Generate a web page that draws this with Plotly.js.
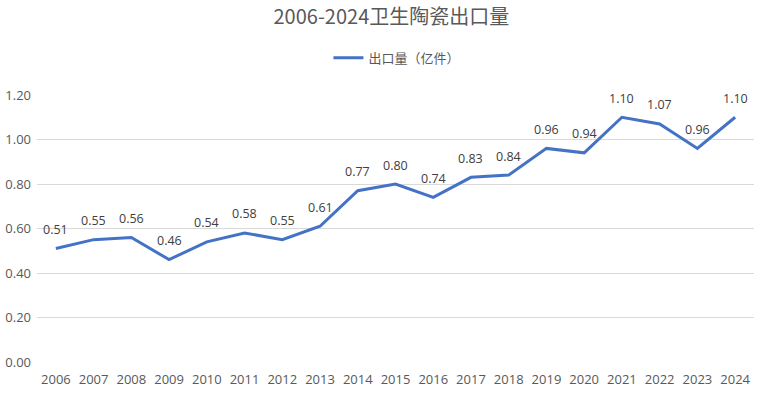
<!DOCTYPE html>
<html><head><meta charset="utf-8">
<script src="https://cdn.plot.ly/plotly-3.0.1.min.js"></script>
<style>html,body{margin:0;padding:0;background:#fff}#chart{width:760px;height:395px}</style>
</head><body><div id="chart"></div>
<script>
const years = ['2006','2007','2008','2009','2010','2011','2012','2013','2014','2015','2016','2017','2018','2019','2020','2021','2022','2023','2024'];
const exportVolume = [0.51,0.55,0.56,0.46,0.54,0.58,0.55,0.61,0.77,0.80,0.74,0.83,0.84,0.96,0.94,1.10,1.07,0.96,1.10];
const seriesName = '出口量（亿件）';
const chartTitle = '2006-2024卫生陶瓷出口量';
const yTicks = [0,0.2,0.4,0.6,0.8,1.0,1.2];

const font = '"Open Sans","Noto Sans CJK SC",sans-serif';
const labels = years.map((yr, i) => ({
  x: i, y: exportVolume[i], xref: 'x', yref: 'y',
  text: exportVolume[i].toFixed(2), showarrow: false,
  yshift: 19, font: {family: font, size: 12.5, color: '#404040'}
}));
Plotly.newPlot('chart', [{
  x: years, y: exportVolume, type: 'scatter', mode: 'lines',
  name: seriesName,
  line: {color: '#4472C4', width: 3}
}], {
  width: 760, height: 395,
  margin: {l: 37, r: 6, t: 95, b: 33, autoexpand: false},
  paper_bgcolor: '#fff', plot_bgcolor: '#fff',
  title: {text: chartTitle, x: 0.515, xanchor: 'center', y: 0.957, yanchor: 'middle',
          font: {family: '"Noto Sans CJK SC",sans-serif', size: 20, color: '#595959'}},
  annotations: labels,
  showlegend: true,
  legend: {orientation: 'h', x: 0.502, xanchor: 'center', y: 1.139, yanchor: 'middle',
           font: {family: '"Noto Sans CJK SC",sans-serif', size: 13, color: '#595959'}},
  xaxis: {type: 'category', range: [-0.5, years.length - 0.5], showgrid: false, zeroline: false,
          showline: false, ticks: '', automargin: false, ticklabelstandoff: 8,
          tickfont: {family: font, size: 13, color: '#595959'}},
  yaxis: {range: [0, 1.2], tickvals: yTicks, ticktext: yTicks.map(v => v.toFixed(2)),
          showgrid: true, gridcolor: '#D9D9D9', gridwidth: 1, zeroline: false, showline: false,
          ticks: '', ticklabelstandoff: 5, automargin: false,
          tickfont: {family: font, size: 13, color: '#595959'}}
}, {displayModeBar: false});
</script></body></html>
